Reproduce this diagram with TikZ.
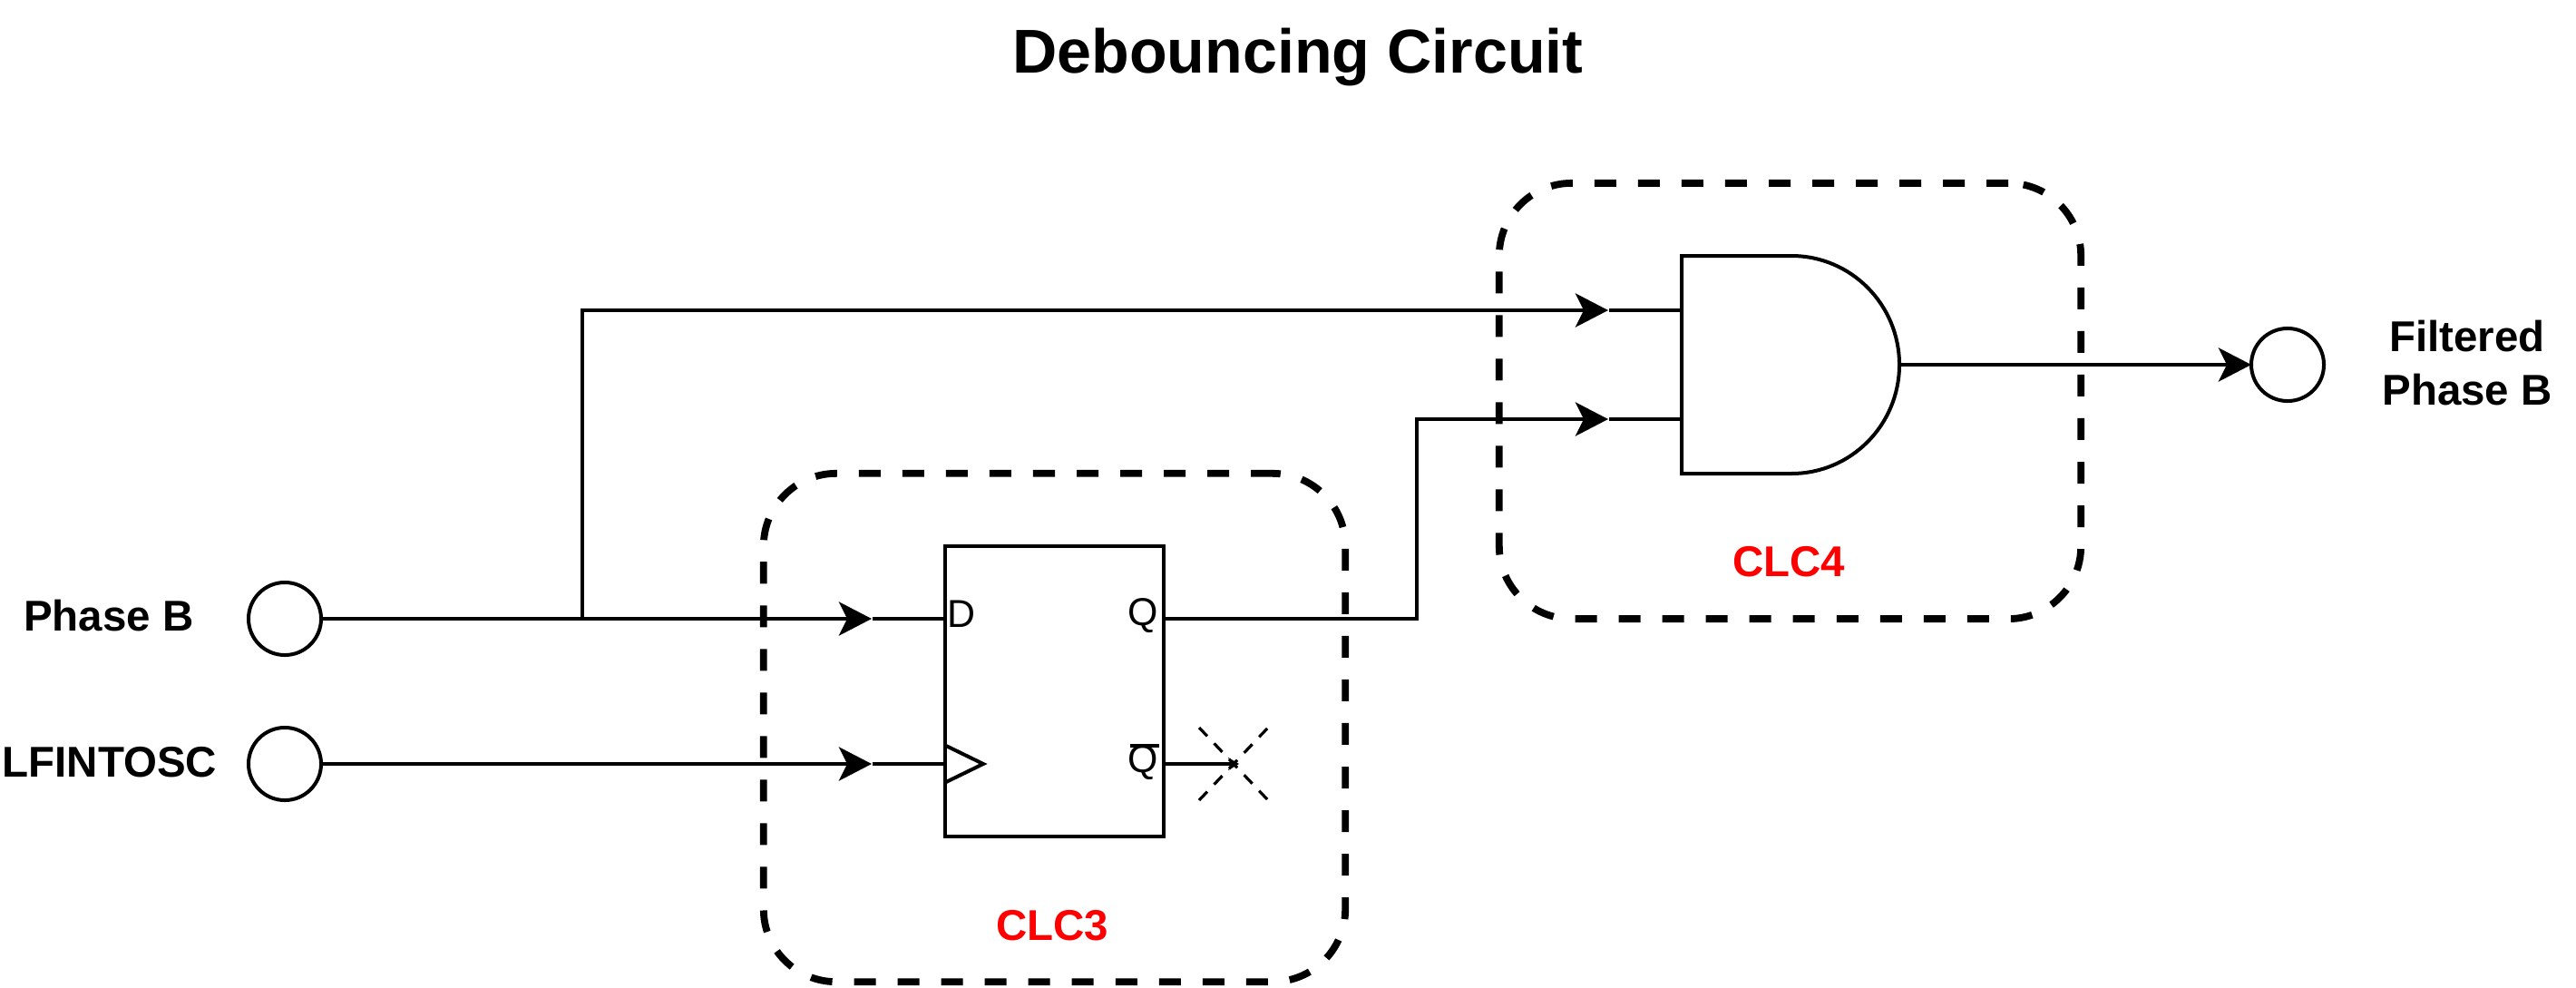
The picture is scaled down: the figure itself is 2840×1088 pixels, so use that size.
\documentclass[tikz,border=0pt]{standalone}
\usepackage{fontspec}
\setmainfont{Liberation Sans}
\usetikzlibrary{arrows.meta}
\tikzset{
  wire/.style={line width=0.04cm},
  flow/.style={wire,-{Stealth[length=0.36cm,width=0.37cm,inset=0.09cm]}},
  port/.style={circle,draw,line width=0.04cm,minimum size=0.8cm,inner sep=0pt,outer sep=0pt},
  clcbox/.style={draw,rounded corners=0.8cm,line width=0.078cm,dash pattern=on 0.24cm off 0.24cm,inner sep=0pt,outer sep=0pt},
  ffbox/.style={draw,line width=0.04cm,inner sep=0pt,outer sep=0pt},
  lbl/.style={font=\fontsize{13.5}{17}\selectfont\bfseries,align=center,inner sep=0pt},
  clclbl/.style={lbl,text=red},
  pin/.style={font=\fontsize{12.2}{14}\selectfont,inner sep=0pt}
}
\begin{document}
\begin{tikzpicture}[x=0.01cm,y=-0.01cm]
  \useasboundingbox (0,0) rectangle (2840,1088);
  \node[lbl,font=\fontsize{19.4}{24}\selectfont\bfseries] (title) at (1431,63) {Debouncing Circuit};
  % CLC blocks
  \node[clcbox,minimum width=6.41cm,minimum height=5.6cm] (clc3) at (1162.5,802) {};
  \node[clcbox,minimum width=6.41cm,minimum height=4.8cm] (clc4) at (1973.5,442) {};
  \node[clclbl] (clc3lbl) at (1160,1020) {CLC3};
  \node[clclbl] (clc4lbl) at (1972,619) {CLC4};
  % ports
  \node[port] (phb) at (314,682) {};
  \node[port] (osc) at (314,842) {};
  \node[port] (out) at (2522,402) {};
  \node[lbl] (phblbl) at (120,679) {Phase B};
  \node[lbl] (osclbl) at (121,840) {LFINTOSC};
  \node[lbl] (outlbl) at (2720,400) {Filtered\\Phase B};
  % flip-flop
  \node[ffbox,minimum width=2.41cm,minimum height=3.2cm] (ff) at (1162.5,762) {};
  \node[pin] (d) at (1060,677) {D};
  \node[pin] (q) at (1260,679) {Q};
  \node[pin] (qb) at (1260,841) {Q};
  \coordinate (ffd) at (ff.west |- phb);
  \coordinate (ffclk) at (ff.west |- osc);
  \coordinate (ffq) at (ff.east |- phb);
  \coordinate (ffqb) at (ff.east |- osc);
  \draw[wire] (1246,822)--(1278,822);
  \draw[wire] (1043,822)--(1084,842)--(1043,862);
  % and gate
  \coordinate (gin1) at (1854,342);
  \coordinate (gin2) at (1854,462);
  \coordinate (gout) at (2094,402);
  \draw[wire] (1854,282)--(1975,282)..controls (2041,282) and (2094,336)..(gout)..controls (2094,468) and (2041,522)..(1975,522)--(1854,522)--cycle;
  % wires
  \coordinate (midd) at (961,682);
  \coordinate (midclk) at (961,842);
  \coordinate (mid1) at (1773,342);
  \coordinate (mid2) at (1773,462);
  \coordinate (branch) at (642,682);
  \coordinate (turn) at (1562,682);
  \draw[flow] (phb)--(midd);
  \draw[wire,shorten <=0.01cm] (midd)--(ffd);
  \draw[flow] (osc)--(midclk);
  \draw[wire,shorten <=0.01cm] (midclk)--(ffclk);
  \draw[flow] (branch)--(branch |- gin1)--(mid1);
  \draw[wire,shorten <=0.01cm] (mid1)--(gin1);
  \draw[flow] (ffq)--(turn)--(turn |- gin2)--(mid2);
  \draw[wire,shorten <=0.01cm] (mid2)--(gin2);
  \draw[flow] (gout)--(out);
  % unused output
  \coordinate (nc) at (1366,842);
  \draw[wire,-{Stealth[length=0.12cm,width=0.14cm]}] (ffqb)--(nc);
  \draw[line width=0.032cm,dash pattern=on 0.13cm off 0.11cm] (1322,802)--(1398,882);
  \draw[line width=0.032cm,dash pattern=on 0.13cm off 0.11cm] (1322,882)--(1398,802);
\end{tikzpicture}
\end{document}
